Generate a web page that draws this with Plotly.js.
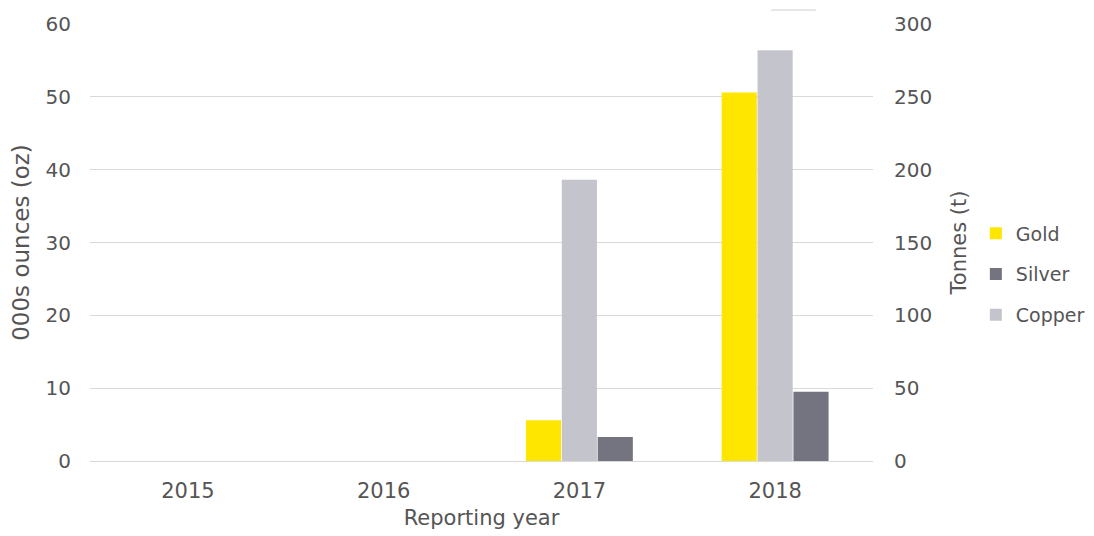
<!DOCTYPE html>
<html>
<head>
<meta charset="utf-8">
<script src="https://cdn.plot.ly/plotly-3.0.1.min.js"></script>
<style>html,body{margin:0;padding:0;background:#fff;}#chart{width:1094px;height:536px;}</style>
</head>
<body>
<div id="chart"></div>
<script>
const years = ['2015', '2016', '2017', '2018'];
const goldOz = [0, 0, 5.6, 50.6];      // 000s ounces
const silverOz = [0, 0, 3.3, 9.5];     // 000s ounces
const copperT = [0, 0, 193, 282];      // tonnes

const tickColor = '#555555';
const fam = 'DejaVu Sans, sans-serif';
const traces = [
  {type: 'bar', name: 'Gold', x: years, y: goldOz, yaxis: 'y', offsetgroup: 'g1',
   marker: {color: '#FFE600'}, legendrank: 1, legendgroup: 'a'},
  {type: 'bar', name: 'Copper', x: years, y: copperT, yaxis: 'y2', offsetgroup: 'g2',
   marker: {color: '#C4C4CD'}, legendrank: 3, legendgroup: 'c'},
  {type: 'bar', name: 'Silver', x: years, y: silverOz, yaxis: 'y', offsetgroup: 'g3',
   marker: {color: '#747480'}, legendrank: 2, legendgroup: 'b'}
];

const layout = {
  width: 1094, height: 536,
  margin: {l: 90, r: 221, t: 24, b: 75},
  paper_bgcolor: '#ffffff', plot_bgcolor: '#ffffff',
  barmode: 'group', bargap: 0.45, bargroupgap: 0.02,
  showlegend: true,
  legend: {xref: 'container', yref: 'container', x: 0.892, xanchor: 'left', y: 0.6, yanchor: 'top',
           traceorder: 'grouped', tracegroupgap: 13,
           font: {family: fam, size: 19, color: tickColor}, itemwidth: 30},
  xaxis: {
    type: 'category', showgrid: false, zeroline: false, automargin: false,
    showline: true, linecolor: '#d9d9d9', linewidth: 1,
    tickfont: {family: fam, size: 21, color: tickColor},
    ticks: '', ticklabelstandoff: 11,
    title: {text: 'Reporting year', standoff: 8,
            font: {family: fam, size: 21, color: tickColor}}
  },
  yaxis: {
    range: [0, 60], dtick: 10, showgrid: true, gridcolor: '#d9d9d9', gridwidth: 1,
    zeroline: false, showline: false, ticks: '', ticklabelstandoff: 18, automargin: false,
    tickfont: {family: fam, size: 20, color: tickColor},
    title: {text: '000s ounces (oz)', standoff: 9, font: {family: fam, size: 23, color: tickColor}}
  },
  yaxis2: {
    overlaying: 'y', side: 'right', range: [0, 300], dtick: 50, automargin: false,
    showgrid: false, zeroline: false, showline: false, ticks: '', ticklabelstandoff: 20,
    tickfont: {family: fam, size: 20, color: tickColor},
    title: {text: 'Tonnes (t)', standoff: 20, font: {family: fam, size: 21, color: tickColor}}
  },
  shapes: [
    {type: 'line', xref: 'paper', yref: 'paper', x0: 0.87, x1: 0.927, y0: 1.032, y1: 1.032,
     line: {color: '#e6e6e6', width: 2}}
  ]
};

Plotly.newPlot('chart', traces, layout, {displayModeBar: false, staticPlot: true});
</script>
</body>
</html>
